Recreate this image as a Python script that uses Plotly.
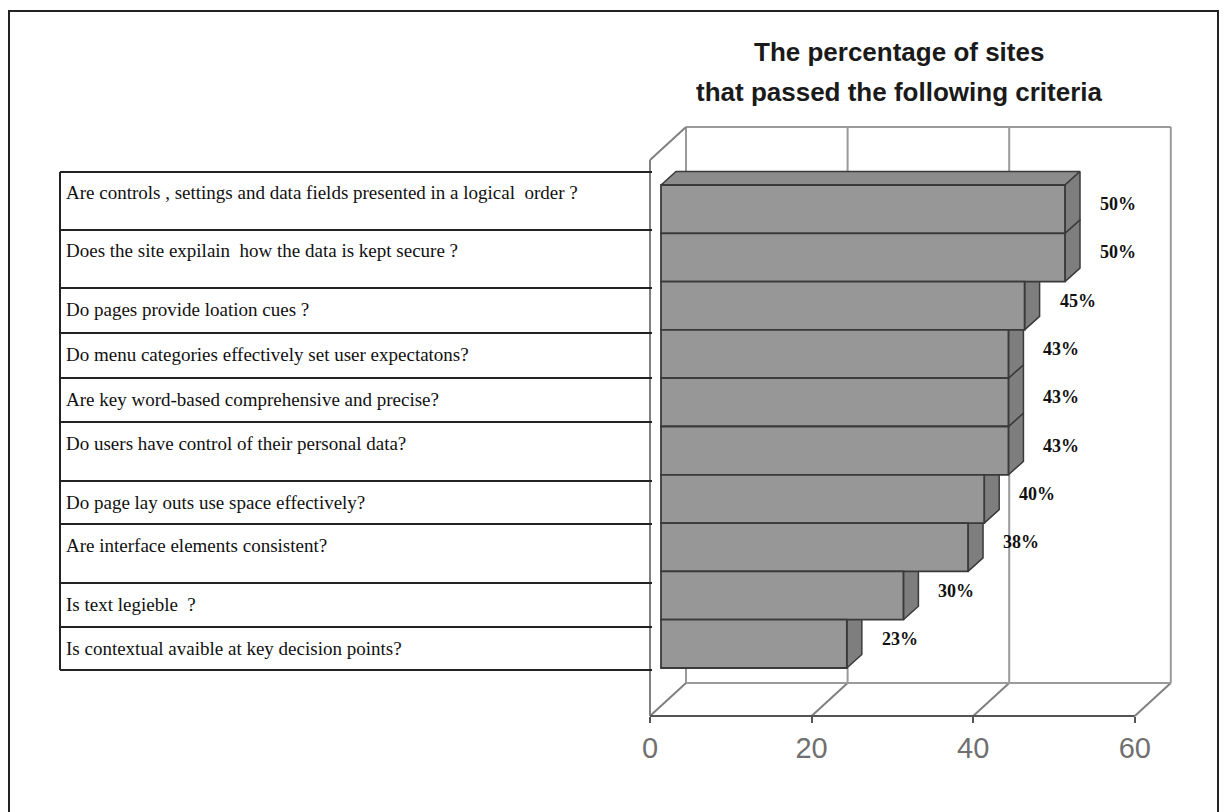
import plotly.graph_objects as go

# ---- data -------------------------------------------------------------
criteria = [
    "Are controls , settings and data fields presented in a logical  order ?",
    "Does the site expilain  how the data is kept secure ?",
    "Do pages provide loation cues ?",
    "Do menu categories effectively set user expectatons?",
    "Are key word-based comprehensive and precise?",
    "Do users have control of their personal data?",
    "Do page lay outs use space effectively?",
    "Are interface elements consistent?",
    "Is text legieble  ?",
    "Is contextual avaible at key decision points?",
]
passed_pct = [50, 50, 45, 43, 43, 43, 40, 38, 30, 23]
value_ticks = [0, 20, 40, 60]
title_lines = ["The percentage of sites", "that passed the following criteria"]

# ---- page geometry (pixels) -------------------------------------------
W, H = 1224, 812
X0_PX = 650          # value 0 on the front edge of the floor
UNIT_PX = 8.08       # pixels per percentage point
ROW_PX = 48.3        # height of one bar slot
BAR_TOP_PX = 185     # top of the first bar's front face
FLOOR_PX = 716       # front edge of the floor
WALL_DX, WALL_DY = 36, 33      # depth of the chart box
BAR_IN_DX = 11                 # bar front plane inset from the box front
BAR_DX, BAR_DY = 15, 13.5      # depth of each bar
WALL_TOP_PX = 127
TABLE_LEFT, TABLE_RIGHT = 60, 650
ROW_EDGES = [172, 230, 288, 333, 378, 422, 481, 524, 583, 627, 670]


def to_x(px):
    return (px - X0_PX) / UNIT_PX


def to_y(px):
    return (px - BAR_TOP_PX) / ROW_PX - 0.5


def px_paper(px, py):
    return px / W, 1 - py / H


bar_x0 = to_x(X0_PX + BAR_IN_DX)
ddx = BAR_DX / UNIT_PX
ddy = BAR_DY / ROW_PX
n = len(passed_pct)

fig = go.Figure()

# side and top faces of the bars, lowest bar first so upper bars overlap
for i in reversed(range(n)):
    v = passed_pct[i]
    end = bar_x0 + v
    top, bot = i - 0.5, i + 0.5
    fig.add_trace(go.Scatter(
        x=[bar_x0, bar_x0 + ddx, end + ddx, end, bar_x0],
        y=[top, top - ddy, top - ddy, top, top],
        mode="lines", fill="toself", fillcolor="#8c8c8c",
        line=dict(color="#3a3a3a", width=1.5),
        hoverinfo="skip", showlegend=False,
    ))
    fig.add_trace(go.Scatter(
        x=[end, end + ddx, end + ddx, end, end],
        y=[top, top - ddy, bot - ddy, bot, top],
        mode="lines", fill="toself", fillcolor="#7e7e7e",
        line=dict(color="#3a3a3a", width=1.5),
        hoverinfo="skip", showlegend=False,
    ))

# front faces of the bars on an overlaid pair of axes
fig.add_trace(go.Bar(
    x=passed_pct, y=list(range(n)), base=bar_x0, orientation="h", width=1,
    marker=dict(color="#979797", line=dict(color="#3a3a3a", width=1.8)),
    xaxis="x2", yaxis="y2", hoverinfo="skip", showlegend=False,
))

shapes = []
grey = "#9a9a9a"
floor_y = to_y(FLOOR_PX)
back_y = to_y(FLOOR_PX - WALL_DY)
wall_top = to_y(WALL_TOP_PX)
wdx = WALL_DX / UNIT_PX
vmin, vmax = value_ticks[0], value_ticks[-1]

# back wall and its gridlines
for v in value_ticks:
    shapes.append(dict(type="line", xref="x", yref="y", layer="below",
                       x0=v + wdx, x1=v + wdx, y0=back_y, y1=wall_top,
                       line=dict(color=grey, width=2)))
    # floor diagonals
    shapes.append(dict(type="line", xref="x", yref="y", layer="below",
                       x0=v, x1=v + wdx, y0=floor_y, y1=back_y,
                       line=dict(color="#808080", width=2)))
shapes.append(dict(type="line", xref="x", yref="y", layer="below",
                   x0=vmin + wdx, x1=vmax + wdx, y0=wall_top, y1=wall_top,
                   line=dict(color=grey, width=2)))
shapes.append(dict(type="line", xref="x", yref="y", layer="below",
                   x0=vmin + wdx, x1=vmax + wdx, y0=back_y, y1=back_y,
                   line=dict(color=grey, width=2)))
# left wall
left_top = to_y(WALL_TOP_PX + WALL_DY)
shapes.append(dict(type="line", xref="x", yref="y", layer="below",
                   x0=vmin, x1=vmin, y0=floor_y, y1=left_top,
                   line=dict(color="#808080", width=2)))
shapes.append(dict(type="line", xref="x", yref="y", layer="below",
                   x0=vmin, x1=vmin + wdx, y0=left_top, y1=wall_top,
                   line=dict(color="#808080", width=2)))
# front edge of the floor
shapes.append(dict(type="line", xref="x", yref="y", layer="below",
                   x0=vmin, x1=vmax, y0=floor_y, y1=floor_y,
                   line=dict(color="#555555", width=2)))

# label table
tx0, _ = px_paper(TABLE_LEFT, 0)
tx1, _ = px_paper(TABLE_RIGHT + 2, 0)
for ey in ROW_EDGES:
    _, py = px_paper(0, ey)
    shapes.append(dict(type="line", xref="paper", yref="paper",
                       x0=tx0, x1=tx1, y0=py, y1=py,
                       line=dict(color="#222222", width=2)))
_, ty0 = px_paper(0, ROW_EDGES[0])
_, ty1 = px_paper(0, ROW_EDGES[-1])
shapes.append(dict(type="line", xref="paper", yref="paper",
                   x0=tx0, x1=tx0, y0=ty0, y1=ty1,
                   line=dict(color="#222222", width=2)))

# outer frame
fx0, fy1 = px_paper(9, 11)
fx1, _ = px_paper(1218, 0)
shapes.append(dict(type="rect", xref="paper", yref="paper",
                   x0=fx0, x1=fx1, y0=-0.05, y1=fy1,
                   line=dict(color="#222222", width=2)))

annotations = []
for k, line in enumerate(title_lines):
    ax, ay = px_paper(899, 52 + 40 * k)
    annotations.append(dict(
        text=line, xref="paper", yref="paper", x=ax, y=ay,
        xanchor="center", yanchor="middle", showarrow=False,
        font=dict(family="Liberation Sans", size=26, color="#1a1a1a", weight="bold"),
    ))

for i, label in enumerate(criteria):
    ax, ay = px_paper(TABLE_LEFT + 4, ROW_EDGES[i] + 21)
    annotations.append(dict(
        text=label, xref="paper", yref="paper", x=ax, y=ay,
        xanchor="left", yanchor="middle", showarrow=False,
        font=dict(family="Liberation Serif", size=19, color="#111111"),
    ))

for i, v in enumerate(passed_pct):
    annotations.append(dict(
        text=f"{v}%", xref="x", yref="y", x=bar_x0 + v + ddx, y=i,
        xshift=18, yshift=5, xanchor="left", yanchor="middle", showarrow=False,
        font=dict(family="Liberation Serif", size=18, color="#111111", weight="bold"),
    ))

x_range = [to_x(0), to_x(W)]
y_range = [to_y(H), to_y(0)]

fig.update_layout(
    width=W, height=H,
    margin=dict(l=0, r=0, t=0, b=0),
    paper_bgcolor="white", plot_bgcolor="white",
    showlegend=False,
    shapes=shapes,
    annotations=annotations,
    xaxis=dict(
        range=x_range, domain=[0, 1], anchor="free", position=1 - FLOOR_PX / H,
        tickvals=value_ticks, ticks="outside", ticklen=6, tickwidth=2,
        tickcolor="#555555", ticklabelstandoff=0,
        tickfont=dict(family="Liberation Sans", size=29, color="#707070"),
        showgrid=False, zeroline=False, showline=False, fixedrange=True,
    ),
    yaxis=dict(range=y_range, domain=[0, 1], visible=False, fixedrange=True),
    xaxis2=dict(range=x_range, overlaying="x", visible=False, fixedrange=True),
    yaxis2=dict(range=y_range, overlaying="y", visible=False, fixedrange=True),
)

fig.write_html("out.html")
